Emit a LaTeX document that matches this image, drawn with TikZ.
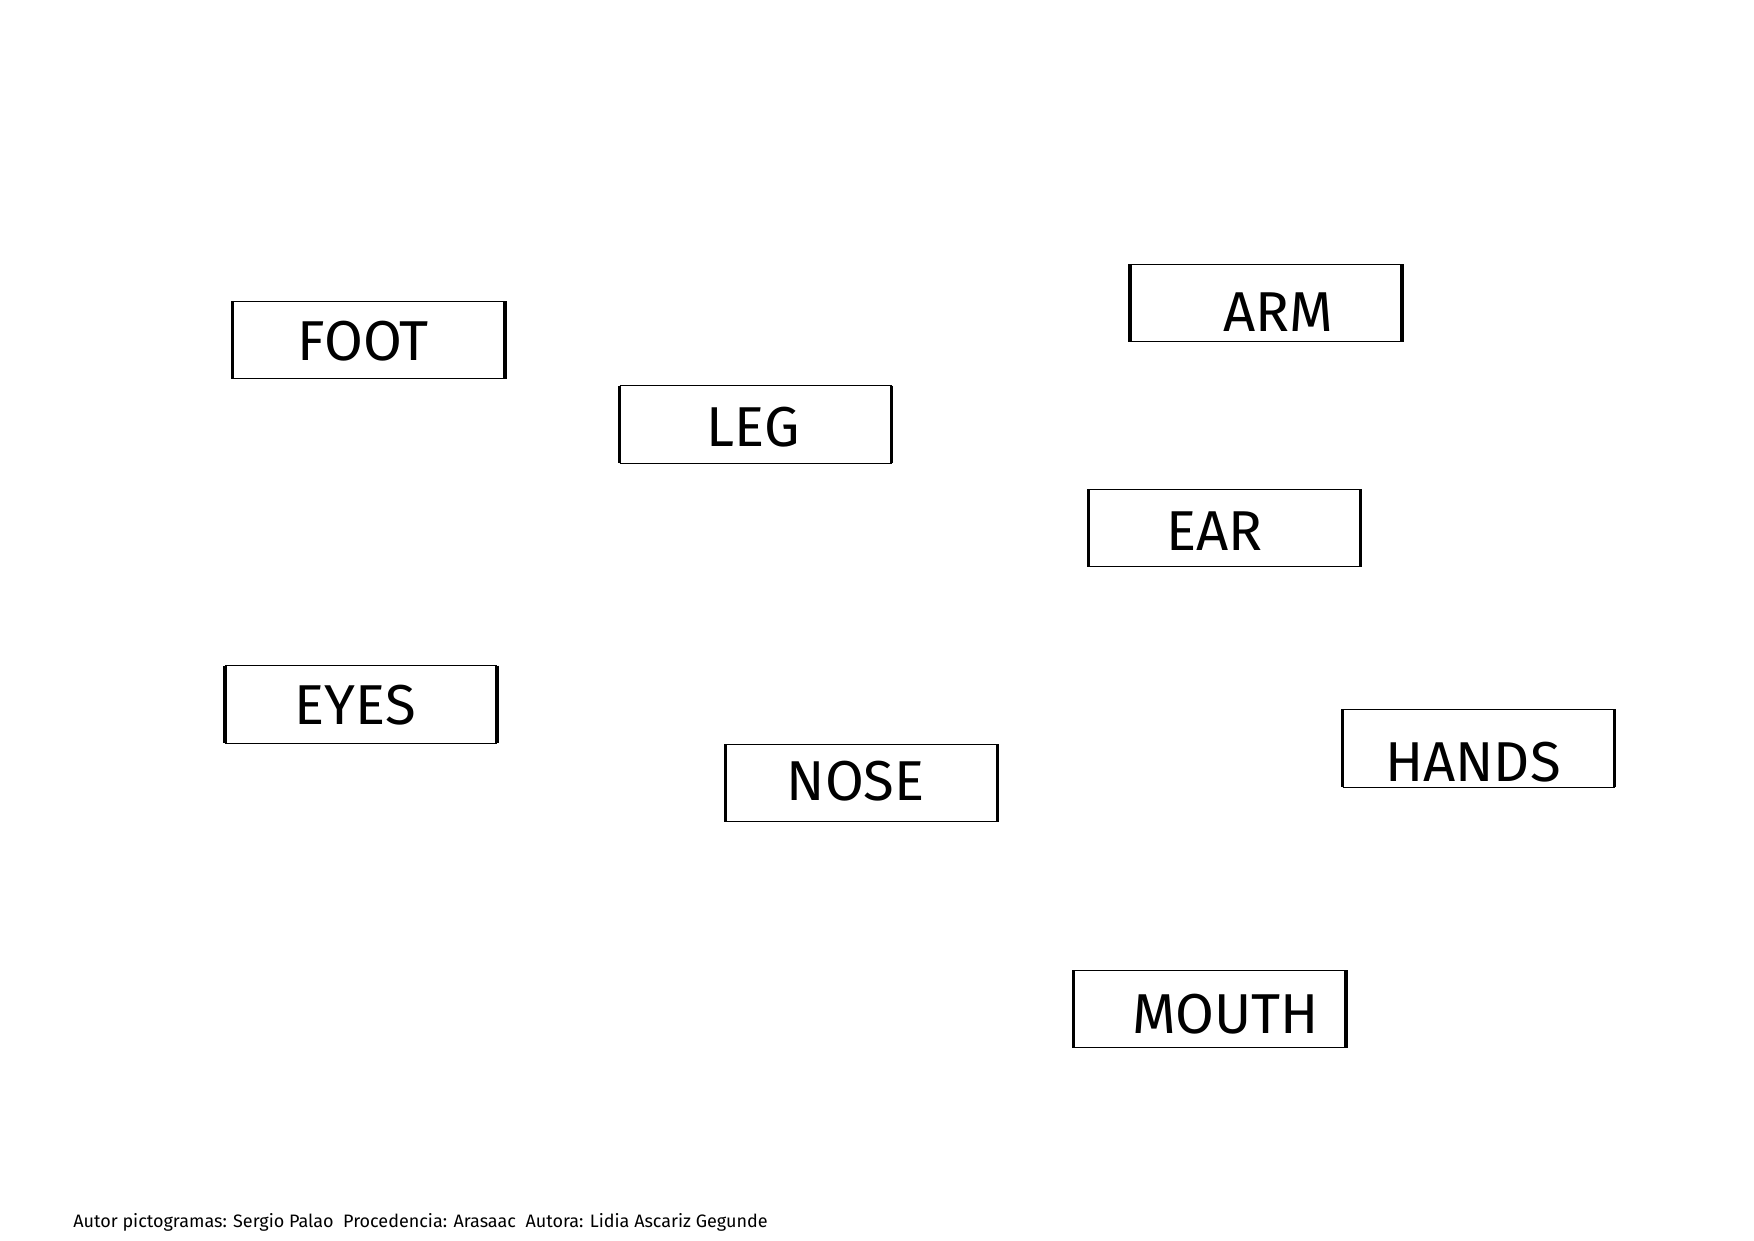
\documentclass[tikz,border=0pt]{standalone}
\usepackage{fontspec}
\setmainfont{Fira Sans}
\begin{document}
\begin{tikzpicture}[x=1pt,y=-1pt,
  lbl/.style={font=\fontsize{50}{54}\selectfont, anchor=center, inner sep=0pt},
  side/.style={line width=3pt},
  topb/.style={line width=1pt}]
\useasboundingbox (0,0) rectangle (1560,1103);
\newcommand{\wbox}[5]{%
  \draw[topb] (#2,#3) -- (#4,#3) (#2,#5) -- (#4,#5);
  \draw[side] (#2,#3) -- (#2,#5) (#4,#3) -- (#4,#5);
}
\wbox{foot}{207}{268}{449}{337}
\node[lbl] (foot) at (323,303) {FOOT};
\wbox{leg}{551}{343}{793}{412}
\node[lbl] (leg) at (670,380) {LEG};
\wbox{arm}{1005}{235}{1247}{304}
\node[lbl] (arm) at (1137,278) {ARM};
\wbox{ear}{968}{435}{1210}{504}
\node[lbl] (ear) at (1080,472) {EAR};
\wbox{eyes}{200}{592}{442}{661}
\node[lbl] (eyes) at (316,627) {EYES};
\wbox{nose}{645}{662}{887}{731}
\node[lbl] (nose) at (761,695) {NOSE};
\wbox{hands}{1194}{631}{1436}{700}
\node[lbl] (hands) at (1310,678) {HANDS};
\wbox{mouth}{955}{863}{1197}{932}
\node[lbl] (mouth) at (1090,902) {MOUTH};
\node[anchor=west, inner sep=0pt, font=\fontsize{16}{18}\selectfont] (credit) at (65,1087) {Autor pictogramas: Sergio Palao\ \ Procedencia: Arasaac\ \ Autora: Lidia Ascariz Gegunde};
\end{tikzpicture}
\end{document}
